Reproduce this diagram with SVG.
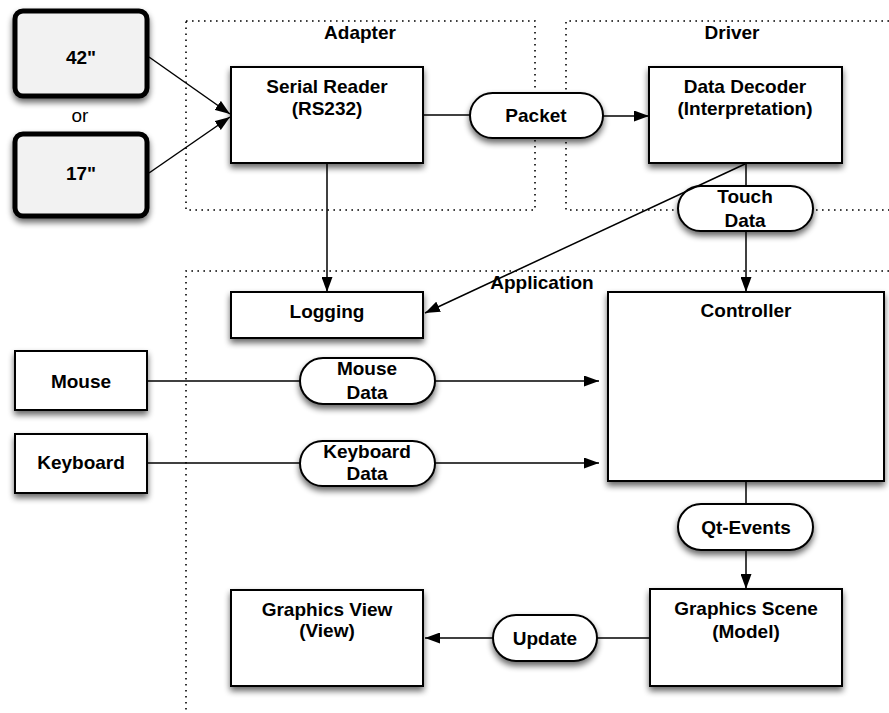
<svg xmlns="http://www.w3.org/2000/svg" width="889" height="713" viewBox="0 0 889 713">
<style>
  .t { font-family: "Liberation Sans", Arial, sans-serif; font-size: 19px; font-weight: bold; fill: #000; text-anchor: middle; }
  .r { font-family: "Liberation Sans", Arial, sans-serif; font-size: 19px; fill: #000; text-anchor: middle; }
  .box { fill: #fff; stroke: #000; stroke-width: 2; filter: url(#sh); }
  .pill { fill: #fff; stroke: #000; stroke-width: 2; filter: url(#sh); }
  .screen { fill: #f2f2f2; stroke: #000; stroke-width: 5; filter: url(#sh); }
  .dot { fill: none; stroke: #000; stroke-width: 1.6; stroke-dasharray: 1.6 4.4; }
  .ln { fill: none; stroke: #000; stroke-width: 1.5; }
  .ar { fill: none; stroke: #000; stroke-width: 1.5; marker-end: url(#ah); }
</style>
<defs>
  <filter id="sh" x="-20%" y="-20%" width="140%" height="160%">
    <feGaussianBlur in="SourceAlpha" stdDeviation="3"/>
    <feOffset dx="0" dy="4" result="b"/>
    <feComponentTransfer><feFuncA type="linear" slope="0.6"/></feComponentTransfer>
    <feMerge><feMergeNode/><feMergeNode in="SourceGraphic"/></feMerge>
  </filter>
  <marker id="ah" markerWidth="15" markerHeight="11" refX="15" refY="5.5" orient="auto" markerUnits="userSpaceOnUse">
    <path d="M0,0 L15,5.5 L0,11 Z" fill="#000"/>
  </marker>
</defs>

<g id="groups">
  <g id="adapter">
    <rect class="dot" x="186" y="21" width="349" height="189"/>
    <text class="t" x="360" y="39">Adapter</text>
  </g>
  <g id="driver">
    <path class="dot" d="M889,21 L566,21 L566,210 L889,210"/>
    <text class="t" x="732" y="39">Driver</text>
  </g>
  <g id="application">
    <path class="dot" d="M889,271 L186,271 L186,713"/>
    <text class="t" x="542" y="289">Application</text>
  </g>
</g>

<g id="nodes">
  <g id="screen42">
    <rect class="screen" x="15" y="11" width="132" height="85" rx="8"/>
    <text class="t" x="81" y="64">42"</text>
  </g>
  <g id="or-label">
    <text class="r" x="80" y="122">or</text>
  </g>
  <g id="screen17">
    <rect class="screen" x="15" y="134" width="132" height="82" rx="8"/>
    <text class="t" x="81" y="180">17"</text>
  </g>
  <g id="serial-reader">
    <rect class="box" x="231" y="67" width="192" height="96"/>
    <text class="t" x="327" y="93">Serial Reader</text>
    <text class="t" x="327" y="115">(RS232)</text>
  </g>
  <g id="packet">
    <rect class="pill" x="470" y="93" width="133" height="45" rx="22.5"/>
    <text class="t" x="536" y="122">Packet</text>
  </g>
  <g id="data-decoder">
    <rect class="box" x="649" y="67" width="193" height="96"/>
    <text class="t" x="745" y="93">Data Decoder</text>
    <text class="t" x="745" y="115">(Interpretation)</text>
  </g>
  <g id="touch-data">
    <rect class="pill" x="678" y="186" width="135" height="45" rx="22.5"/>
    <text class="t" x="745" y="203">Touch</text>
    <text class="t" x="745" y="227">Data</text>
  </g>
  <g id="logging">
    <rect class="box" x="231" y="292" width="192" height="46"/>
    <text class="t" x="327" y="318">Logging</text>
  </g>
  <g id="controller">
    <rect class="box" x="608" y="292" width="276" height="189"/>
    <text class="t" x="746" y="317">Controller</text>
  </g>
  <g id="mouse">
    <rect class="box" x="15" y="351" width="132" height="59"/>
    <text class="t" x="81" y="388">Mouse</text>
  </g>
  <g id="mouse-data">
    <rect class="pill" x="300" y="358" width="135" height="46" rx="23"/>
    <text class="t" x="367" y="375">Mouse</text>
    <text class="t" x="367" y="399">Data</text>
  </g>
  <g id="keyboard">
    <rect class="box" x="15" y="434" width="132" height="59"/>
    <text class="t" x="81" y="469">Keyboard</text>
  </g>
  <g id="keyboard-data">
    <rect class="pill" x="300" y="441" width="135" height="45" rx="22.5"/>
    <text class="t" x="367" y="458">Keyboard</text>
    <text class="t" x="367" y="480">Data</text>
  </g>
  <g id="qt-events">
    <rect class="pill" x="678" y="504" width="135" height="46" rx="23"/>
    <text class="t" x="746" y="534">Qt-Events</text>
  </g>
  <g id="graphics-scene">
    <rect class="box" x="650" y="589" width="192" height="97"/>
    <text class="t" x="746" y="615">Graphics Scene</text>
    <text class="t" x="746" y="638">(Model)</text>
  </g>
  <g id="update">
    <rect class="pill" x="493" y="615" width="104" height="46" rx="23"/>
    <text class="t" x="545" y="645">Update</text>
  </g>
  <g id="graphics-view">
    <rect class="box" x="231" y="590" width="192" height="96"/>
    <text class="t" x="327" y="616">Graphics View</text>
    <text class="t" x="327" y="637">(View)</text>
  </g>
</g>

<g id="connectors">
  <line class="ar" x1="149" y1="57" x2="230" y2="114"/>
  <line class="ar" x1="149" y1="173" x2="230" y2="117"/>
  <line class="ln" x1="423" y1="115" x2="470" y2="115"/>
  <line class="ar" x1="603" y1="116" x2="649" y2="116"/>
  <line class="ln" x1="746" y1="163" x2="746" y2="186"/>
  <line class="ar" x1="746" y1="231" x2="746" y2="292"/>
  <line class="ar" x1="745" y1="164" x2="425" y2="313"/>
  <line class="ar" x1="327" y1="163" x2="327" y2="292"/>
  <line class="ln" x1="147" y1="381" x2="300" y2="381"/>
  <line class="ar" x1="435" y1="381" x2="599" y2="381"/>
  <line class="ln" x1="147" y1="463" x2="300" y2="463"/>
  <line class="ar" x1="435" y1="463" x2="599" y2="463"/>
  <line class="ln" x1="746" y1="481" x2="746" y2="504"/>
  <line class="ar" x1="746" y1="550" x2="746" y2="589"/>
  <line class="ln" x1="650" y1="638" x2="597" y2="638"/>
  <line class="ar" x1="493" y1="638" x2="425" y2="638"/>
</g>
</svg>
